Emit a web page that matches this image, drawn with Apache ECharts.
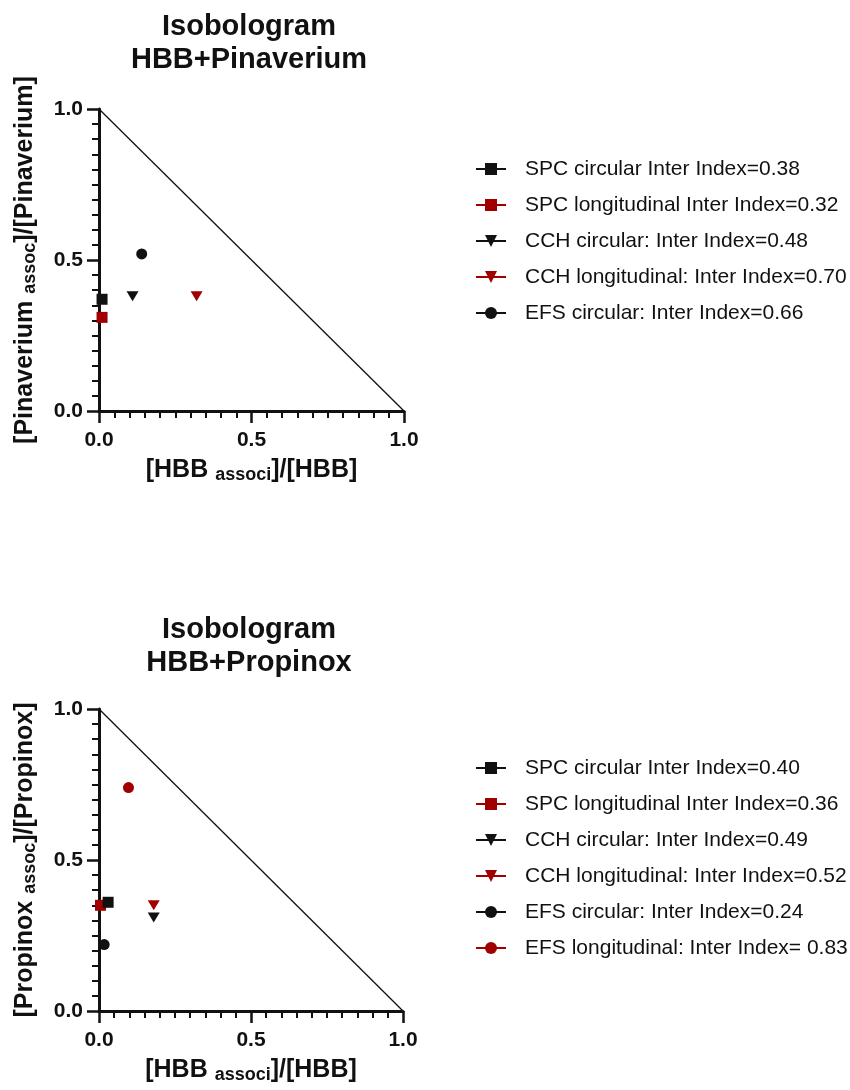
<!DOCTYPE html>
<html>
<head>
<meta charset="utf-8">
<script src="https://cdn.jsdelivr.net/npm/echarts@6/dist/echarts.min.js"></script>
<style>
  html, body { margin: 0; padding: 0; background: #fff; }
  #main { width: 850px; height: 1090px; }
</style>
</head>
<body>
<div id="main"></div>
<script>
// data
var pinaNames = ['SPC circular Inter Index=0.38', 'SPC longitudinal Inter Index=0.32', 'CCH circular: Inter Index=0.48', 'CCH longitudinal: Inter Index=0.70', 'EFS circular: Inter Index=0.66'];
var pinaX = [0.01, 0.01, 0.11, 0.32, 0.14];
var pinaY = [0.37, 0.31, 0.38, 0.38, 0.52];

var propNames = ['SPC circular Inter Index=0.40', 'SPC longitudinal Inter Index=0.36', 'CCH circular: Inter Index=0.49', 'CCH longitudinal: Inter Index=0.52', 'EFS circular: Inter Index=0.24', 'EFS longitudinal: Inter Index= 0.83'];
var propX = [0.03, 0.005, 0.18, 0.18, 0.017, 0.097];
var propY = [0.36, 0.35, 0.31, 0.35, 0.22, 0.74];

// line of additivity
var addX = [0, 1];
var addY = [1, 0];

var axisTicks = [0, 0.5, 1];

var BLACK = '#111111';
var RED = '#a00000';
var FONT = 'Liberation Sans, Arial, sans-serif';

var pinaColors = [BLACK, RED, BLACK, RED, BLACK];
var pinaSymbols = ['rect', 'rect', 'triangle', 'triangle', 'circle'];
var propColors = [BLACK, RED, BLACK, RED, BLACK, RED];
var propSymbols = ['rect', 'rect', 'triangle', 'triangle', 'circle', 'circle'];

var chart = echarts.init(document.getElementById('main'), null, { renderer: 'canvas' });

function makeAxis(gridIndex, name, isY) {
  return {
    type: 'value',
    gridIndex: gridIndex,
    min: axisTicks[0],
    max: axisTicks[axisTicks.length - 1],
    interval: axisTicks[1] - axisTicks[0],
    name: name,
    nameLocation: 'middle',
    nameGap: isY ? 60 : 47,
    nameRotate: isY ? 90 : 0,
    nameTextStyle: {
      rich: {
        m: { fontSize: 25, fontWeight: 'bold', fontFamily: FONT, color: BLACK, lineHeight: 26, verticalAlign: 'top' },
        s: { fontSize: 18, fontWeight: 'bold', fontFamily: FONT, color: BLACK, lineHeight: 20, verticalAlign: 'bottom', padding: [14, 0, 0, 0] }
      }
    },
    axisLine: { show: true, lineStyle: { color: BLACK, width: 3 } },
    axisTick: { show: true, length: 12, lineStyle: { color: BLACK, width: 2.5 } },
    minorTick: { show: true, splitNumber: 10, length: 7, lineStyle: { color: BLACK, width: 2 } },
    splitLine: { show: false },
    minorSplitLine: { show: false },
    axisLabel: {
      margin: isY ? 16 : 19,
      fontSize: 21,
      fontWeight: 'bold',
      fontFamily: FONT,
      color: BLACK,
      formatter: function (v) { return v.toFixed(1); }
    }
  };
}

function makeSeries(names, xs, ys, colors, symbols, idx) {
  var out = [];
  for (var i = 0; i < names.length; i++) {
    var tri = symbols[i] === 'triangle';
    out.push({
      name: names[i],
      type: 'line',
      xAxisIndex: idx,
      yAxisIndex: idx,
      data: [[xs[i], ys[i]]],
      symbol: symbols[i],
      symbolSize: tri ? [12, 10] : 11,
      symbolRotate: tri ? 180 : 0,
      color: colors[i],
      itemStyle: { color: colors[i], borderWidth: 0 },
      lineStyle: { color: colors[i], width: 2 },
      clip: false,
      z: colors[i] === BLACK ? 4 : 3
    });
  }
  // additivity line
  out.push({
    name: 'additivity' + idx,
    type: 'line',
    xAxisIndex: idx,
    yAxisIndex: idx,
    data: addX.map(function (x, k) { return [x, addY[k]]; }),
    symbol: 'none',
    lineStyle: { color: BLACK, width: 1.3 },
    z: 2
  });
  return out;
}

function makeLegend(names, top) {
  return {
    data: names,
    orient: 'vertical',
    left: 475,
    top: top,
    padding: 0,
    itemWidth: 30,
    itemHeight: 15,
    itemGap: 14,
    selectedMode: false,
    textStyle: { fontSize: 21, fontFamily: FONT, color: BLACK, lineHeight: 22, padding: [0, 0, 0, 14] }
  };
}

var titleStyle = { fontSize: 29, fontWeight: 'bold', fontFamily: FONT, color: BLACK, lineHeight: 33 };

var option = {
  animation: false,
  backgroundColor: '#fff',
  title: [
    { text: 'Isobologram\nHBB+Pinaverium', left: 249, top: 10, textAlign: 'center', padding: 0, textStyle: titleStyle },
    { text: 'Isobologram\nHBB+Propinox', left: 249, top: 613, textAlign: 'center', padding: 0, textStyle: titleStyle }
  ],
  legend: [makeLegend(pinaNames, 158), makeLegend(propNames, 757)],
  grid: [
    { left: 99, top: 109, width: 305, height: 302 },
    { left: 99, top: 709, width: 304, height: 302 }
  ],
  xAxis: [
    makeAxis(0, '{m|[HBB }{s|associ}{m|]/[HBB]}', false),
    makeAxis(1, '{m|[HBB }{s|associ}{m|]/[HBB]}', false)
  ],
  yAxis: [
    makeAxis(0, '{m|[Pinaverium }{s|assoc}{m|]/[Pinaverium]}', true),
    makeAxis(1, '{m|[Propinox }{s|assoc}{m|]/[Propinox]}', true)
  ],
  series: makeSeries(pinaNames, pinaX, pinaY, pinaColors, pinaSymbols, 0)
    .concat(makeSeries(propNames, propX, propY, propColors, propSymbols, 1))
};

chart.setOption(option);
</script>
</body>
</html>
